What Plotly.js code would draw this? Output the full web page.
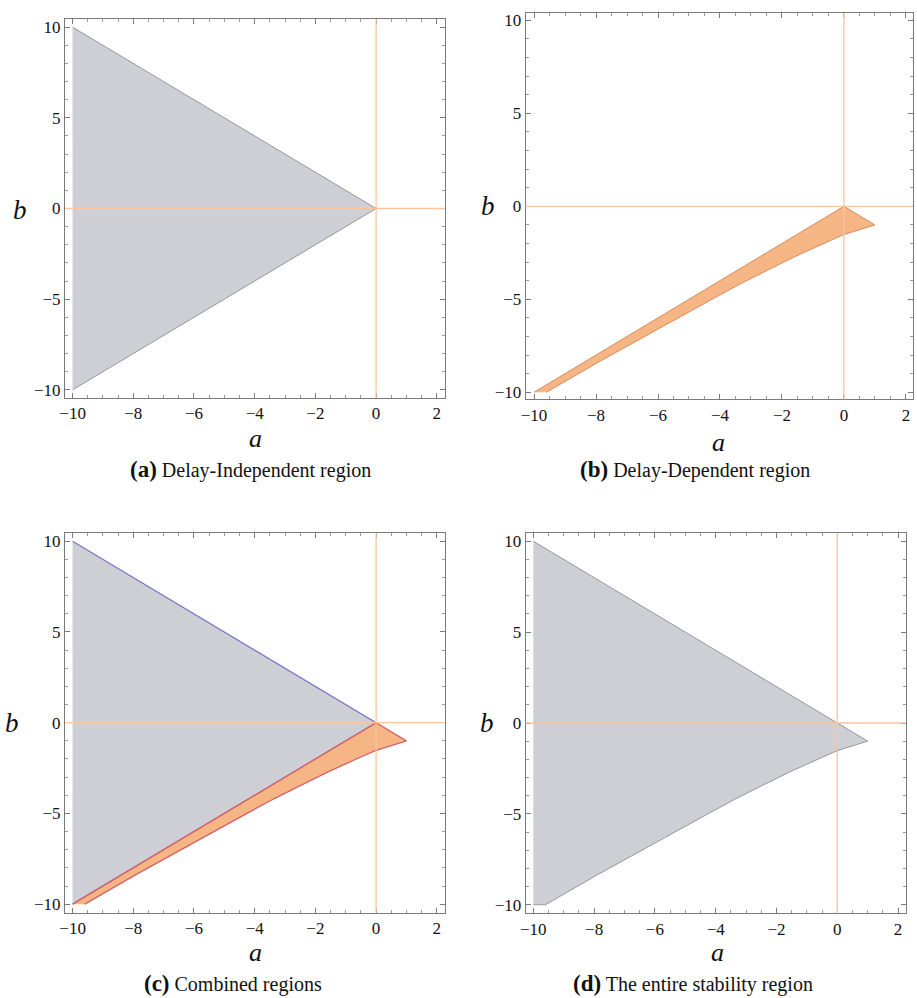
<!DOCTYPE html>
<html>
<head>
<meta charset="utf-8">
<script src="https://cdn.plot.ly/plotly-3.0.1.min.js"></script>
<style>
  html, body { margin: 0; padding: 0; background: #ffffff; }
  #chart { width: 917px; height: 998px; }
</style>
</head>
<body>
<div id="chart"></div>
<script>
// Delay-independent stability region: triangle |b| < -a (vertices)
const indepA = [-10, 0, -10];
const indepB = [10, 0, -10];

// Delay-dependent region: upper edge b = a from (-10,-10) to (0,0), then to the cusp (1,-1),
// then back along the lower boundary curve down to b = -10
const depA = [-10, 0, 1, 0.9, 0.65, 0.35, 0, -0.45, -0.9, -1.6, -2.6, -3.35, -4.3, -5.7, -7.9, -9.6];
const depB = [-10, 0, -1, -1.05, -1.19, -1.35, -1.52, -1.85, -2.2, -2.72, -3.55, -4.18, -5.04, -6.32, -8.36, -10];

// Entire stability region: union of the two
const allA = [-10, 0, 1, 0.9, 0.65, 0.35, 0, -0.45, -0.9, -1.6, -2.6, -3.35, -4.3, -5.7, -7.9, -9.6, -10];
const allB = [10, 0, -1, -1.05, -1.19, -1.35, -1.52, -1.85, -2.2, -2.72, -3.55, -4.18, -5.04, -6.32, -8.36, -10, -10];

const xTicks = [-10, -8, -6, -4, -2, 0, 2];
const yTicks = [-10, -5, 0, 5, 10];

const captions = [
  ['(a)', 'Delay-Independent region'],
  ['(b)', 'Delay-Dependent region'],
  ['(c)', 'Combined regions'],
  ['(d)', 'The entire stability region']
];

const W = 917, H = 998;
const px = v => v / W;
const py = v => 1 - v / H;

const GRAY_FILL = 'rgba(198,199,205,0.85)';
const GRAY_EDGE = 'rgb(150,150,156)';
const ORANGE_FILL = 'rgba(244,168,110,0.85)';
const ORANGE_EDGE = 'rgb(214,140,92)';
const AXIS_ORANGE = 'rgb(249,196,158)';

function region(xs, ys, fill, edge, ax, width) {
  return {
    type: 'scatter', mode: 'lines', x: xs, y: ys, fill: 'toself',
    fillcolor: fill, line: { color: edge, width: width || 1 },
    xaxis: 'x' + ax, yaxis: 'y' + ax, hoverinfo: 'skip', showlegend: false
  };
}

const data = [
  region(indepA, indepB, GRAY_FILL, GRAY_EDGE, ''),
  region(depA, depB, ORANGE_FILL, ORANGE_EDGE, '2'),
  region(indepA, indepB, GRAY_FILL, 'rgb(120,118,200)', '3', 1.3),
  region(depA, depB, ORANGE_FILL, 'rgb(214,96,100)', '3', 1.3),
  region(allA, allB, GRAY_FILL, GRAY_EDGE, '4')
];

const serif = 'Liberation Serif, Times New Roman, serif';

function xAxis(domain, range, anchor) {
  return {
    domain: domain, range: range, anchor: anchor,
    tickmode: 'array', tickvals: xTicks,
    showline: true, linecolor: '#7a7a7a', linewidth: 1, mirror: 'allticks',
    ticks: 'inside', ticklen: 5, tickcolor: '#7a7a7a', tickwidth: 1,
    minor: { ticks: 'inside', ticklen: 3, dtick: 0.5, tick0: 0, tickcolor: '#9a9a9a' },
    showgrid: false, zeroline: false,
    tickfont: { family: serif, size: 17, color: '#111111' }
  };
}
function yAxis(domain, range, anchor) {
  return {
    domain: domain, range: range, anchor: anchor,
    tickmode: 'array', tickvals: yTicks,
    showline: true, linecolor: '#7a7a7a', linewidth: 1, mirror: 'allticks',
    ticks: 'inside', ticklen: 5, tickcolor: '#7a7a7a', tickwidth: 1,
    minor: { ticks: 'inside', ticklen: 3, dtick: 1, tick0: 0, tickcolor: '#9a9a9a' },
    showgrid: false, zeroline: false,
    tickfont: { family: serif, size: 17, color: '#111111' }
  };
}

// Axis lines a = 0 and b = 0, drawn over the regions
const shapes = [];
['', '2', '3', '4'].forEach(ax => {
  shapes.push({ type: 'line', xref: 'x' + ax, yref: 'y' + ax + ' domain', x0: 0, x1: 0, y0: 0, y1: 1,
    layer: 'above', line: { color: AXIS_ORANGE, width: 1.3 } });
  shapes.push({ type: 'line', xref: 'x' + ax + ' domain', yref: 'y' + ax, x0: 0, x1: 1, y0: 0, y1: 0,
    layer: 'above', line: { color: AXIS_ORANGE, width: 1.3 } });
});

// Axis labels and captions
const labelPos = [
  { b: [20, 210], a: [255, 439], cap: [250, 469] },
  { b: [488, 206], a: [718, 442], cap: [695, 469] },
  { b: [12, 723], a: [255, 952], cap: [233, 983] },
  { b: [487, 723], a: [717, 952], cap: [693, 983] }
];
const annotations = [];
labelPos.forEach((p, i) => {
  annotations.push({ xref: 'paper', yref: 'paper', x: px(p.b[0]), y: py(p.b[1]), text: '<i>b</i>',
    showarrow: false, xanchor: 'center', yanchor: 'middle', font: { family: serif, size: 27, color: '#111' } });
  annotations.push({ xref: 'paper', yref: 'paper', x: px(p.a[0]), y: py(p.a[1]), text: '<i>a</i>',
    showarrow: false, xanchor: 'center', yanchor: 'middle', borderpad: 0,
    font: { family: serif, size: 26, color: '#111' } });
  annotations.push({ xref: 'paper', yref: 'paper', x: px(p.cap[0]), y: py(p.cap[1]),
    text: '<span style="font-size:23px"><b>' + captions[i][0] + '</b></span> ' + captions[i][1],
    showarrow: false, xanchor: 'center', yanchor: 'middle', borderpad: 0,
    font: { family: serif, size: 20, color: '#111' } });
});

const layout = {
  width: W, height: H,
  margin: { l: 0, r: 0, t: 0, b: 0 },
  paper_bgcolor: '#ffffff', plot_bgcolor: '#ffffff',
  showlegend: false,
  xaxis:  xAxis([px(65), px(445)], [-10.25, 2.27], 'y'),
  yaxis:  yAxis([py(398), py(19)], [-10.45, 10.45], 'x'),
  xaxis2: xAxis([px(525.7), px(912.7)], [-10.27, 2.22], 'y2'),
  yaxis2: yAxis([py(399.3), py(13.3)], [-10.38, 10.38], 'x2'),
  xaxis3: xAxis([px(65), px(445)], [-10.25, 2.27], 'y3'),
  yaxis3: yAxis([py(912.7), py(532.7)], [-10.47, 10.47], 'x3'),
  xaxis4: xAxis([px(525.7), px(905.7)], [-10.25, 2.25], 'y4'),
  yaxis4: yAxis([py(913.3), py(532.7)], [-10.47, 10.47], 'x4'),
  shapes: shapes,
  annotations: annotations
};

Plotly.newPlot('chart', data, layout, { staticPlot: true, displayModeBar: false });
</script>
</body>
</html>
